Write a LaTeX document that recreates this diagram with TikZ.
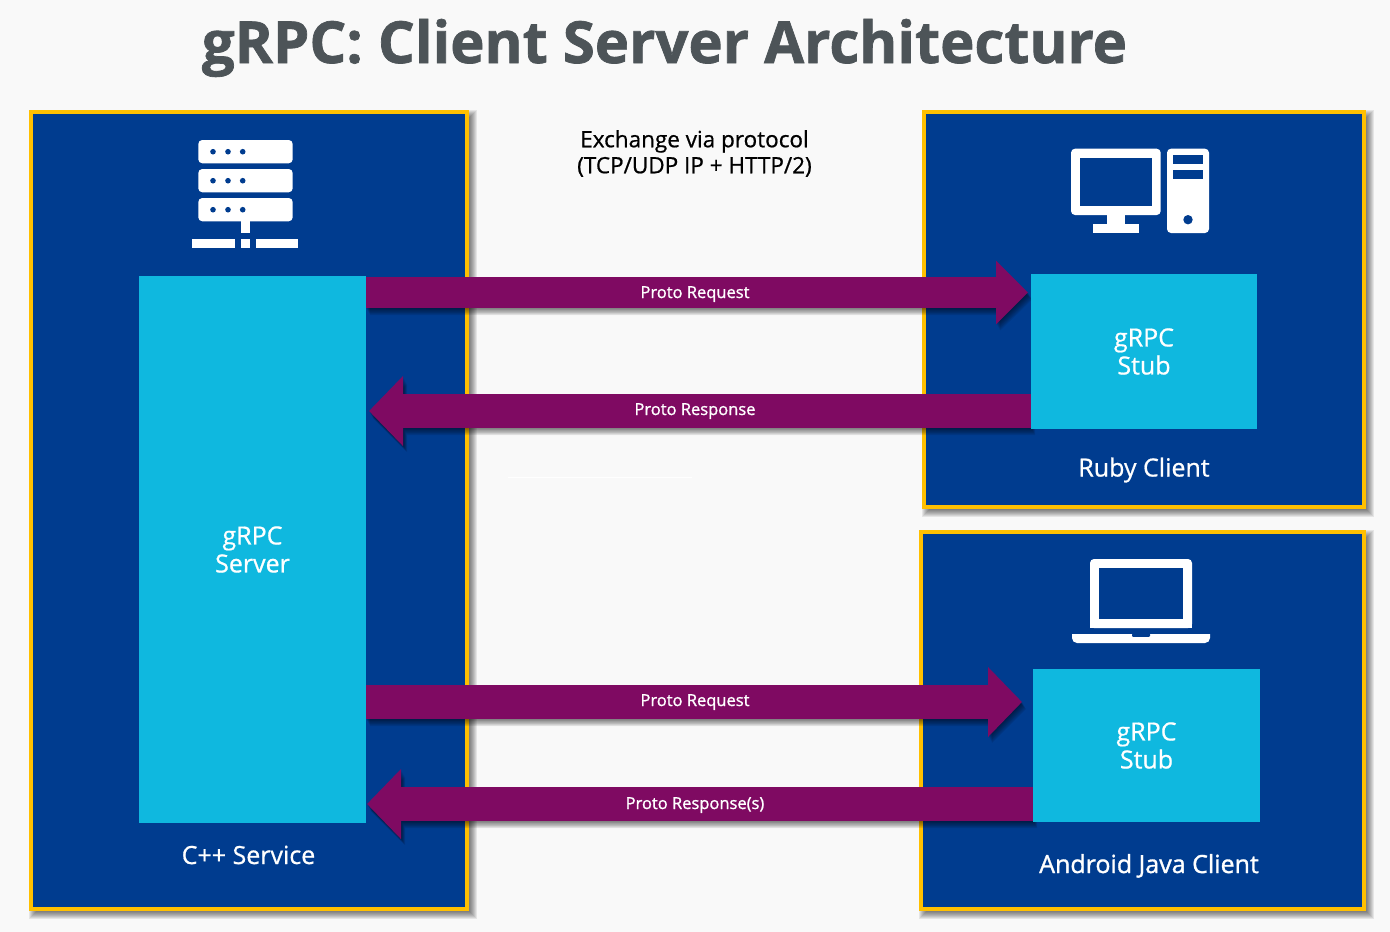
\documentclass[tikz,border=0pt]{standalone}
\usepackage{fontspec}
\setmainfont{Open Sans}
\newfontfamily\semi[FakeBold=1.2]{Open Sans}
\newfontfamily\medium[FakeBold=0.7]{Open Sans}
\newfontfamily\heavy[BoldFeatures={FakeBold=1.2}]{Open Sans}
\usetikzlibrary{arrows.meta}
\definecolor{pagebg}{HTML}{F9F9F9}
\definecolor{navy}{HTML}{003C8F}
\definecolor{gold}{HTML}{FFC000}
\definecolor{cyanbox}{HTML}{0FB8DF}
\definecolor{plum}{HTML}{7F0A62}
\definecolor{titlegrey}{HTML}{4D5458}
\newcommand{\softrect}[4]{%
  \foreach \d in {4,3,2,1,0,-1,-2,-3}
    \fill[black,opacity=.08] ({#1+4-\d},{#2+4-\d}) rectangle ({#3+4+\d},{#4+4+\d});}
% tail x, tip x, axis y, half shaft, head length (signed), half head
\newcommand{\softarrow}[6]{%
  \foreach \s in {1,...,8}
    \fill[black,opacity=.075,shift={(\s*.5,\s*.9)}]
      (#1,#3-#4) -- ({#2-(#5)},#3-#4) -- ({#2-(#5)},#3-#6) -- (#2,#3) --
      ({#2-(#5)},#3+#6) -- ({#2-(#5)},#3+#4) -- (#1,#3+#4) -- cycle;}
\tikzset{
  x=1pt,y=-1pt,
  panel/.style={draw=gold,line width=4pt,fill=navy,inner sep=0pt,outer sep=0pt},
  rpcbox/.style={fill=cyanbox,inner sep=0pt,outer sep=0pt,text=white,align=center,font=\fontsize{25}{28}\medium},
  caption/.style={text=white,inner sep=0pt,anchor=base,font=\fontsize{25}{28}\medium},
  msg/.style={text=white,inner sep=0pt,anchor=base,font=\fontsize{16.5}{18}\semi},
  fatA/.style={line width=31pt,-{Triangle[length=32pt,width=62pt]},draw=plum,fill=plum},
  fatB/.style={line width=34pt,-{Triangle[length=34pt,width=68pt]},draw=plum,fill=plum},
}
\begin{document}
\begin{tikzpicture}
\useasboundingbox (0,0) rectangle (1390,932);
\fill[pagebg] (0,0) rectangle (1390,932);
\draw[white,line width=1pt] (508,477) -- (692,477);

\node[inner sep=0pt,anchor=base,text=titlegrey,font=\fontsize{58}{64}\heavy\bfseries] (title) at (664.5,63) {gRPC: Client Server Architecture};
\node[inner sep=0pt,align=center,text=black,font=\fontsize{22.5}{26}\medium] (proto) at (694.5,153.5) {Exchange via protocol\\(TCP/UDP IP + HTTP/2)};

% panels
\softrect{29}{110}{469}{911}
\softrect{922}{110}{1366}{509}
\softrect{919}{530}{1366}{911}
\node[panel,minimum width=436pt,minimum height=797pt] (cpp) at (249,510.5) {};
\node[panel,minimum width=440pt,minimum height=395pt] (ruby) at (1144,309.5) {};
\node[panel,minimum width=443pt,minimum height=377pt] (android) at (1142.5,720.5) {};

% arrow tips
\coordinate (tipA) at (1028,292.5);
\coordinate (tipB) at (369,411);
\coordinate (tipC) at (1022,702);
\coordinate (tipD) at (367,804);

% arrow shadows
\softarrow{366}{1028}{292.5}{15.5}{32}{31}
\softarrow{1031}{369}{411}{17}{-34}{34}
\softarrow{366}{1022}{702}{17}{34}{34}
\softarrow{1033}{367}{804}{17}{-34}{34}

% light boxes
\node[rpcbox,minimum width=227pt,minimum height=547pt] (server) at (252.5,549.5) {gRPC\\Server};
\node[rpcbox,minimum width=226pt,minimum height=155pt] (stubA) at (1144,351.5) {gRPC\\Stub};
\node[rpcbox,minimum width=227pt,minimum height=153pt] (stubB) at (1146.5,745.5) {gRPC\\Stub};

% arrows
\draw[fatA] (server.east |- tipA) -- (tipA);
\draw[fatB] (stubA.west |- tipB) -- (tipB);
\draw[fatB] (server.east |- tipC) -- (tipC);
\draw[fatB] (stubB.west |- tipD) -- (tipD);

\node[msg] (m1) at (695,298) {Proto Request};
\node[msg] (m2) at (695,415) {Proto Response};
\node[msg] (m3) at (695,706) {Proto Request};
\node[msg] (m4) at (695,809) {Proto Response(s)};

\node[caption] (c1) at (248.5,864) {C++ Service};
\node[caption] (c2) at (1144,476.5) {Ruby Client};
\node[caption,font=\fontsize{25}{28}\semi] (c3) at (1149,873) {Android Java Client};

% server icon
\foreach \y in {140,169,198}{
  \fill[white,rounded corners=4pt] (198.3,\y) rectangle (292.7,\y+23.3);
  \foreach \x in {213,228,242.7}
    \fill[navy] (\x,\y+11.7) circle (2.8pt);
}
\fill[white] (241,221) rectangle (250,233);
\fill[white] (192.3,239) rectangle (235.3,248);
\fill[white] (241,239) rectangle (250,248);
\fill[white] (255.7,239) rectangle (298.3,248);

% desktop icon
\fill[white,rounded corners=4pt] (1071,148.7) rectangle (1160.7,215);
\fill[navy] (1080,157.7) rectangle (1152,206);
\fill[white] (1107,214) rectangle (1125,225);
\fill[white] (1093.3,224) rectangle (1138.7,233);
\fill[white,rounded corners=4pt] (1167,148.7) rectangle (1209,233);
\fill[navy] (1173,155) rectangle (1203,164);
\fill[navy] (1173,170) rectangle (1203,179);
\fill[navy] (1188,219.7) circle (4.7pt);

% laptop icon
\fill[white,rounded corners=4pt] (1090,559) -- (1192,559) -- (1192,628) -- (1090,628) -- cycle;
\fill[white] (1090,618) rectangle (1192,628);
\fill[navy] (1099,568) rectangle (1183,619);
\fill[white] (1072,634) -- (1210,634) [rounded corners=5pt] -- (1210,643) -- (1072,643) [sharp corners] -- cycle;
\fill[navy,rounded corners=1pt] (1132,633.5) rectangle (1150,636.8);
\end{tikzpicture}
\end{document}
